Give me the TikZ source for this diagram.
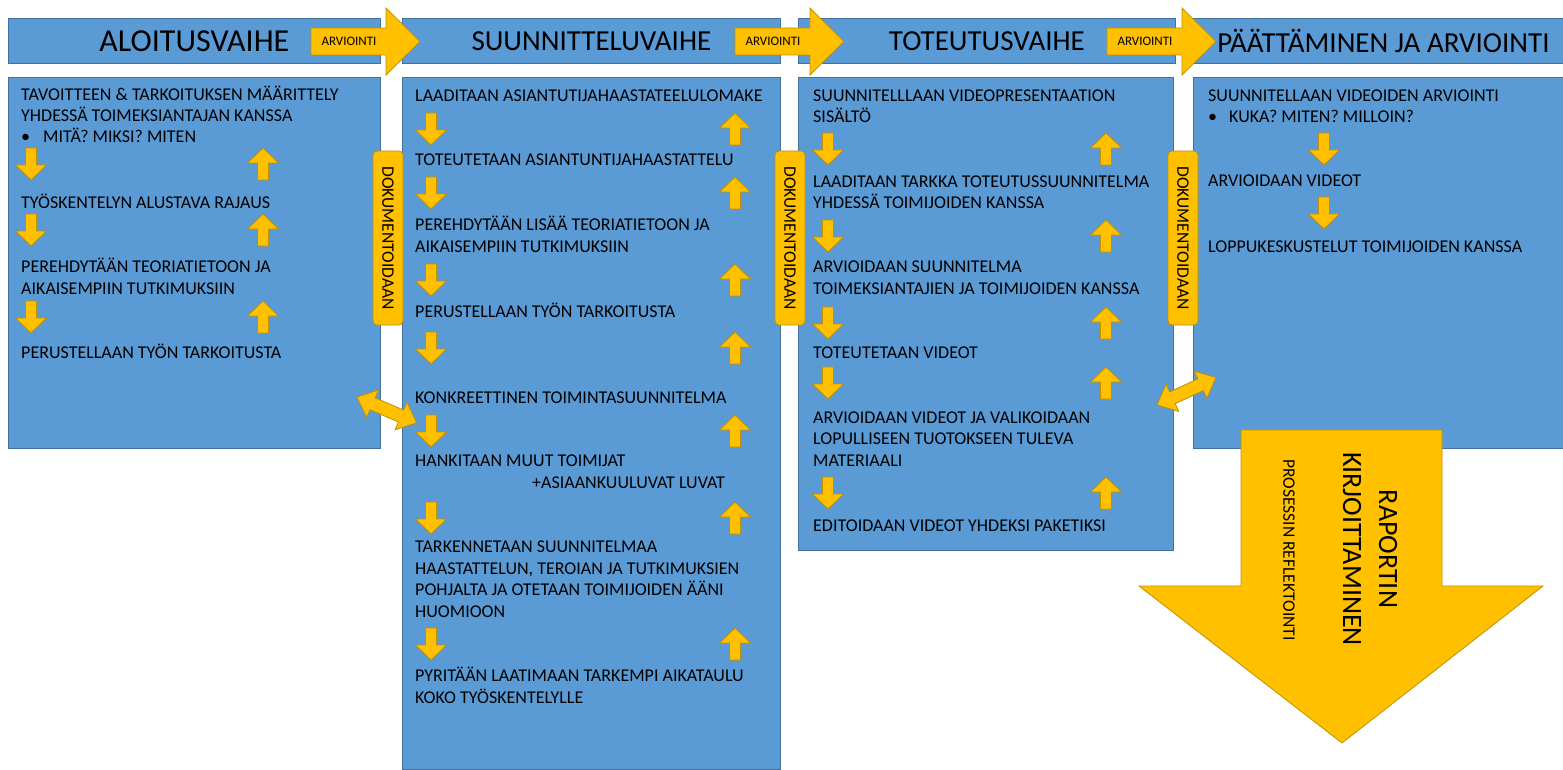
\documentclass[tikz,border=0pt]{standalone}
\usepackage{fontspec}
\setmainfont{Carlito}

\definecolor{phasefill}{HTML}{5B9BD5}
\definecolor{phaseline}{HTML}{41719C}
\definecolor{amber}{HTML}{FFC000}
\definecolor{amberline}{HTML}{BF9000}

\begin{document}
\begin{tikzpicture}[x=1pt, y=-1pt,
  phase/.style={draw=phaseline, fill=phasefill, line width=0.8pt, anchor=north west, inner sep=0pt},
  phasetitle/.style={font=\fontsize{29}{34}\selectfont},
  task/.style={anchor=base west, inner sep=0pt, align=left, font=\fontsize{18}{21.5}\selectfont},
  goldshape/.style={draw=amberline, fill=amber, line width=0.8pt},
  doctab/.style={goldshape, rounded corners=4pt, rotate=-90, minimum width=174pt, minimum height=30pt, inner sep=0pt, font=\fontsize{17.5}{21}\selectfont},
  dnarrow/.pic={\path[goldshape] (-5.5,0) -- (5.5,0) -- (5.5,17) -- (15.5,17) -- (0,32) -- (-15.5,17) -- (-5.5,17) -- cycle;},
  uparrow/.pic={\path[goldshape] (0,0) -- (15.5,15) -- (5.5,15) -- (5.5,32) -- (-5.5,32) -- (-5.5,15) -- (-15.5,15) -- cycle;},
  dblarrow/.pic={\path[goldshape] (0,0) -- (17,-15) -- (17,-6.5) -- (48,-6.5) -- (48,-15) -- (65,0) -- (48,15) -- (48,6.5) -- (17,6.5) -- (17,15) -- cycle;},
  review/.pic={\path[goldshape] (0,-13.5) -- (75,-13.5) -- (75,-33.5) -- (109,0) -- (75,33.5) -- (75,13.5) -- (0,13.5) -- cycle;
    \node[font=\fontsize{13}{15}\selectfont, inner sep=0pt] (-label) at (38,0) {ARVIOINTI};}
]
\useasboundingbox (0,0) rectangle (1563,770);

% phase headers
\node[phase, phasetitle, minimum width=372pt, minimum height=45pt] (aloitus) at (8,18) {\fontsize{32}{34}\selectfont ALOITUSVAIHE};
\node[phase, phasetitle, minimum width=378pt, minimum height=45pt] (suunnittelu) at (402,18) {SUUNNITTELUVAIHE};
\node[phase, phasetitle, minimum width=377pt, minimum height=45pt] (toteutus) at (798,18) {TOTEUTUSVAIHE};
\node[phase, phasetitle, minimum width=370pt, minimum height=45pt] (paatos) at (1193,18) {\hspace{10pt}PÄÄTTÄMINEN JA ARVIOINTI};

% phase contents (base of a block = its last line)
\node[phase, minimum width=372pt, minimum height=371pt] (box1) at (8,77) {};
\node[phase, minimum width=378pt, minimum height=692pt] (box2) at (402,77) {};
\node[phase, minimum width=375pt, minimum height=473pt] (box3) at (798,77) {};
\node[phase, minimum width=370pt, minimum height=371pt] (box4) at (1193,77) {};

\node[task] (a1) at (21,122) {TAVOITTEEN \& TARKOITUKSEN MÄÄRITTELY\\YHDESSÄ TOIMEKSIANTAJAN KANSSA};
\node[task] (a2) at (21,143) {\makebox[22pt][l]{•}MITÄ? MIKSI? MITEN};
\node[task] (a3) at (21,208) {TYÖSKENTELYN ALUSTAVA RAJAUS};
\node[task] (a4) at (21,294) {PEREHDYTÄÄN TEORIATIETOON JA\\AIKAISEMPIIN TUTKIMUKSIIN};
\node[task] (a5) at (21,358) {PERUSTELLAAN TYÖN TARKOITUSTA};

\node[task] (s1) at (415,102) {LAADITAAN ASIANTUTIJAHAASTATEELULOMAKE};
\node[task] (s2) at (415,166) {TOTEUTETAAN ASIANTUNTIJAHAASTATTELU};
\node[task] (s3) at (415,252) {PEREHDYTÄÄN LISÄÄ TEORIATIETOON JA\\AIKAISEMPIIN TUTKIMUKSIIN};
\node[task] (s4) at (415,317) {PERUSTELLAAN TYÖN TARKOITUSTA};
\node[task] (s5) at (415,403) {KONKREETTINEN TOIMINTASUUNNITELMA};
\node[task] (s6) at (415,488) {HANKITAAN MUUT TOIMIJAT\\\hspace*{117pt}+ASIAANKUULUVAT LUVAT};
\node[task] (s7) at (415,617) {TARKENNETAAN SUUNNITELMAA\\HAASTATTELUN, TEROIAN JA TUTKIMUKSIEN\\POHJALTA JA OTETAAN TOIMIJOIDEN ÄÄNI\\HUOMIOON};
\node[task] (s8) at (415,703) {PYRITÄÄN LAATIMAAN TARKEMPI AIKATAULU\\KOKO TYÖSKENTELYLLE};

\node[task] (t1) at (813,123) {SUUNNITELLLAAN VIDEOPRESENTAATION\\SISÄLTÖ};
\node[task] (t2) at (813,209) {LAADITAAN TARKKA TOTEUTUSSUUNNITELMA\\YHDESSÄ TOIMIJOIDEN KANSSA};
\node[task] (t3) at (813,294) {ARVIOIDAAN SUUNNITELMA\\TOIMEKSIANTAJIEN JA TOIMIJOIDEN KANSSA};
\node[task] (t4) at (813,358) {TOTEUTETAAN VIDEOT};
\node[task] (t5) at (813,466) {ARVIOIDAAN VIDEOT JA VALIKOIDAAN\\LOPULLISEEN TUOTOKSEEN TULEVA\\MATERIAALI};
\node[task] (t6) at (813,531) {EDITOIDAAN VIDEOT YHDEKSI PAKETIKSI};

\node[task] (p1) at (1208,102) {SUUNNITELLAAN VIDEOIDEN ARVIOINTI};
\node[task] (p2) at (1208,123) {\makebox[21pt][l]{•}KUKA? MITEN? MILLOIN?};
\node[task] (p3) at (1208,187) {ARVIOIDAAN VIDEOT};
\node[task] (p4) at (1208,252) {LOPPUKESKUSTELUT TOIMIJOIDEN KANSSA};

% small block arrows
\foreach \y in {148,214,301} {
  \pic at (31,\y) {dnarrow};
  \pic at (263,\y) {uparrow};
}
\foreach \y in {113,177,264,332,415,502,628} {
  \pic at (431,\y) {dnarrow};
  \pic at (735,\y) {uparrow};
}
\foreach \y in {133,220,307,367,477} {
  \pic at (828,\y) {dnarrow};
  \pic at (1106,\y) {uparrow};
}
\foreach \y in {133,197}
  \pic at (1324,\y) {dnarrow};

% evaluation arrows between phases
\pic (rev1) at (311,41.5) {review};
\pic (rev2) at (735,41.5) {review};
\pic (rev3) at (1107,41.5) {review};

% documentation tabs
\node[doctab] (doc1) at (388,238) {DOKUMENTOIDAAN};
\node[doctab] (doc2) at (790,238) {DOKUMENTOIDAAN};
\node[doctab] (doc3) at (1183,238) {DOKUMENTOIDAAN};

\pic[rotate=-23.4] at (357,397) {dblarrow};
\pic[rotate=25] at (1157,405) {dblarrow};

% report writing
\path[goldshape] (1241,430) -- (1442,430) -- (1442,586) -- (1543,586) -- (1342,743) -- (1139,586) -- (1241,586) -- cycle;
\node[rotate=-90, align=center, font=\fontsize{28}{36}\selectfont] (report) at (1370,549) {RAPORTIN\\KIRJOITTAMINEN};
\node[rotate=-90, font=\fontsize{17.5}{21}\selectfont] (reflect) at (1289,550) {PROSESSIN REFLEKTOINTI};

\end{tikzpicture}
\end{document}
